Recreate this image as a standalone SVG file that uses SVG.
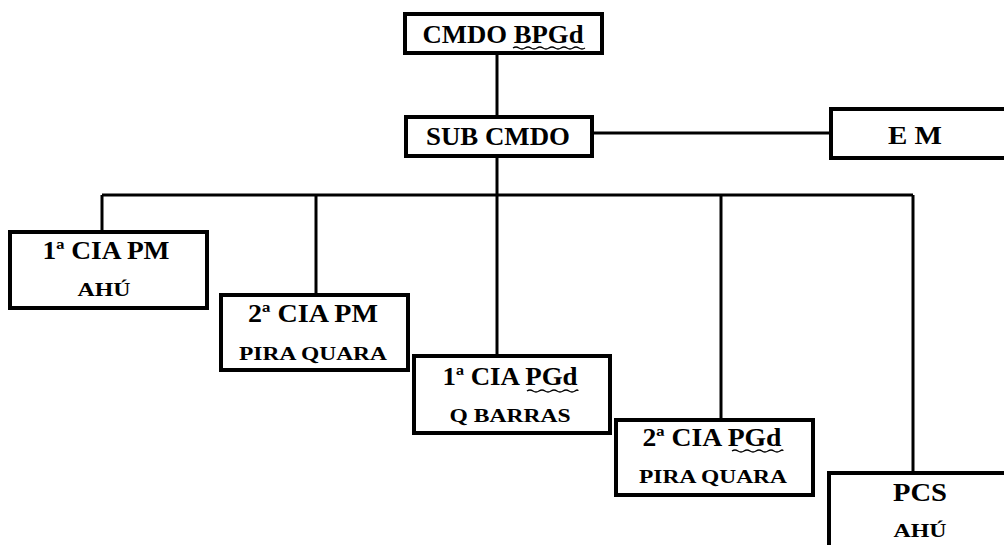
<svg xmlns="http://www.w3.org/2000/svg" width="1004" height="545" viewBox="0 0 1004 545">
<style>
.box{fill:#fff;stroke:#000;stroke-width:4}
.ln{fill:none;stroke:#000;stroke-width:3}
text{font-family:"Liberation Serif",serif;font-weight:700;fill:#000;text-anchor:middle}
.m{font-size:25px}
.s{font-size:19px}
.w{fill:none;stroke:#000;stroke-width:1.3}
</style>
<rect x="0" y="0" width="1004" height="545" fill="#fff"/>
<g id="connectors">
<path class="ln" d="M497 53V117"/>
<path class="ln" d="M592 133H831"/>
<path class="ln" d="M497 156V195"/>
<path class="ln" d="M102 195H913"/>
<path class="ln" d="M102 195V232"/>
<path class="ln" d="M316 195V295"/>
<path class="ln" d="M497 195V356"/>
<path class="ln" d="M721 195V420"/>
<path class="ln" d="M913 195V473"/>
</g>
<g id="cmdo-bpgd">
<rect class="box" x="405" y="14" width="197" height="39"/>
<text class="m" x="503" y="43" textLength="161" lengthAdjust="spacingAndGlyphs" font-family="Liberation Serif">CMDO BPGd</text>
<path class="w" d="M513 48q3-2 6 0t6 0t6 0t6 0t6 0t6 0t6 0t6 0t6 0t6 0t6 0t6 0"/>
</g>
<g id="sub-cmdo">
<rect class="box" x="406" y="117" width="186" height="39"/>
<text class="m" x="498" y="145" textLength="144" lengthAdjust="spacingAndGlyphs" font-family="Liberation Serif">SUB CMDO</text>
</g>
<g id="em">
<rect class="box" x="831" y="109" width="185" height="49"/>
<text class="m" x="915" y="144" textLength="54" lengthAdjust="spacingAndGlyphs" font-family="Liberation Serif">E M</text>
</g>
<g id="cia1-pm">
<rect class="box" x="10" y="232" width="197" height="76"/>
<text class="m" x="106" y="259" textLength="127" lengthAdjust="spacingAndGlyphs" font-family="Liberation Serif">1ª CIA PM</text>
<text class="s" x="104" y="296" textLength="53" lengthAdjust="spacingAndGlyphs" font-family="Liberation Serif">AHÚ</text>
</g>
<g id="cia2-pm">
<rect class="box" x="221" y="295" width="187" height="75"/>
<text class="m" x="313" y="322" textLength="130" lengthAdjust="spacingAndGlyphs" font-family="Liberation Serif">2ª CIA PM</text>
<text class="s" x="313" y="360" textLength="148" lengthAdjust="spacingAndGlyphs" font-family="Liberation Serif">PIRA QUARA</text>
</g>
<g id="cia1-pgd">
<rect class="box" x="414" y="356" width="196" height="77"/>
<text class="m" x="510" y="385" textLength="135" lengthAdjust="spacingAndGlyphs" font-family="Liberation Serif">1ª CIA PGd</text>
<path class="w" d="M527 391q3-2 6 0t6 0t6 0t6 0t6 0t6 0t6 0t6 0t3 0"/>
<text class="s" x="510" y="422" textLength="121" lengthAdjust="spacingAndGlyphs" font-family="Liberation Serif">Q BARRAS</text>
</g>
<g id="cia2-pgd">
<rect class="box" x="616" y="420" width="197" height="75"/>
<text class="m" x="712" y="446" textLength="139" lengthAdjust="spacingAndGlyphs" font-family="Liberation Serif">2ª CIA PGd</text>
<path class="w" d="M732 451q3-2 6 0t6 0t6 0t6 0t6 0t6 0t6 0t6 0t3 0"/>
<text class="s" x="713" y="483" textLength="148" lengthAdjust="spacingAndGlyphs" font-family="Liberation Serif">PIRA QUARA</text>
</g>
<g id="pcs">
<rect class="box" x="829" y="473" width="190" height="90"/>
<text class="m" x="920" y="501" textLength="54" lengthAdjust="spacingAndGlyphs" font-family="Liberation Serif">PCS</text>
<text class="s" x="920" y="537" textLength="53" lengthAdjust="spacingAndGlyphs" font-family="Liberation Serif">AHÚ</text>
</g>
</svg>
